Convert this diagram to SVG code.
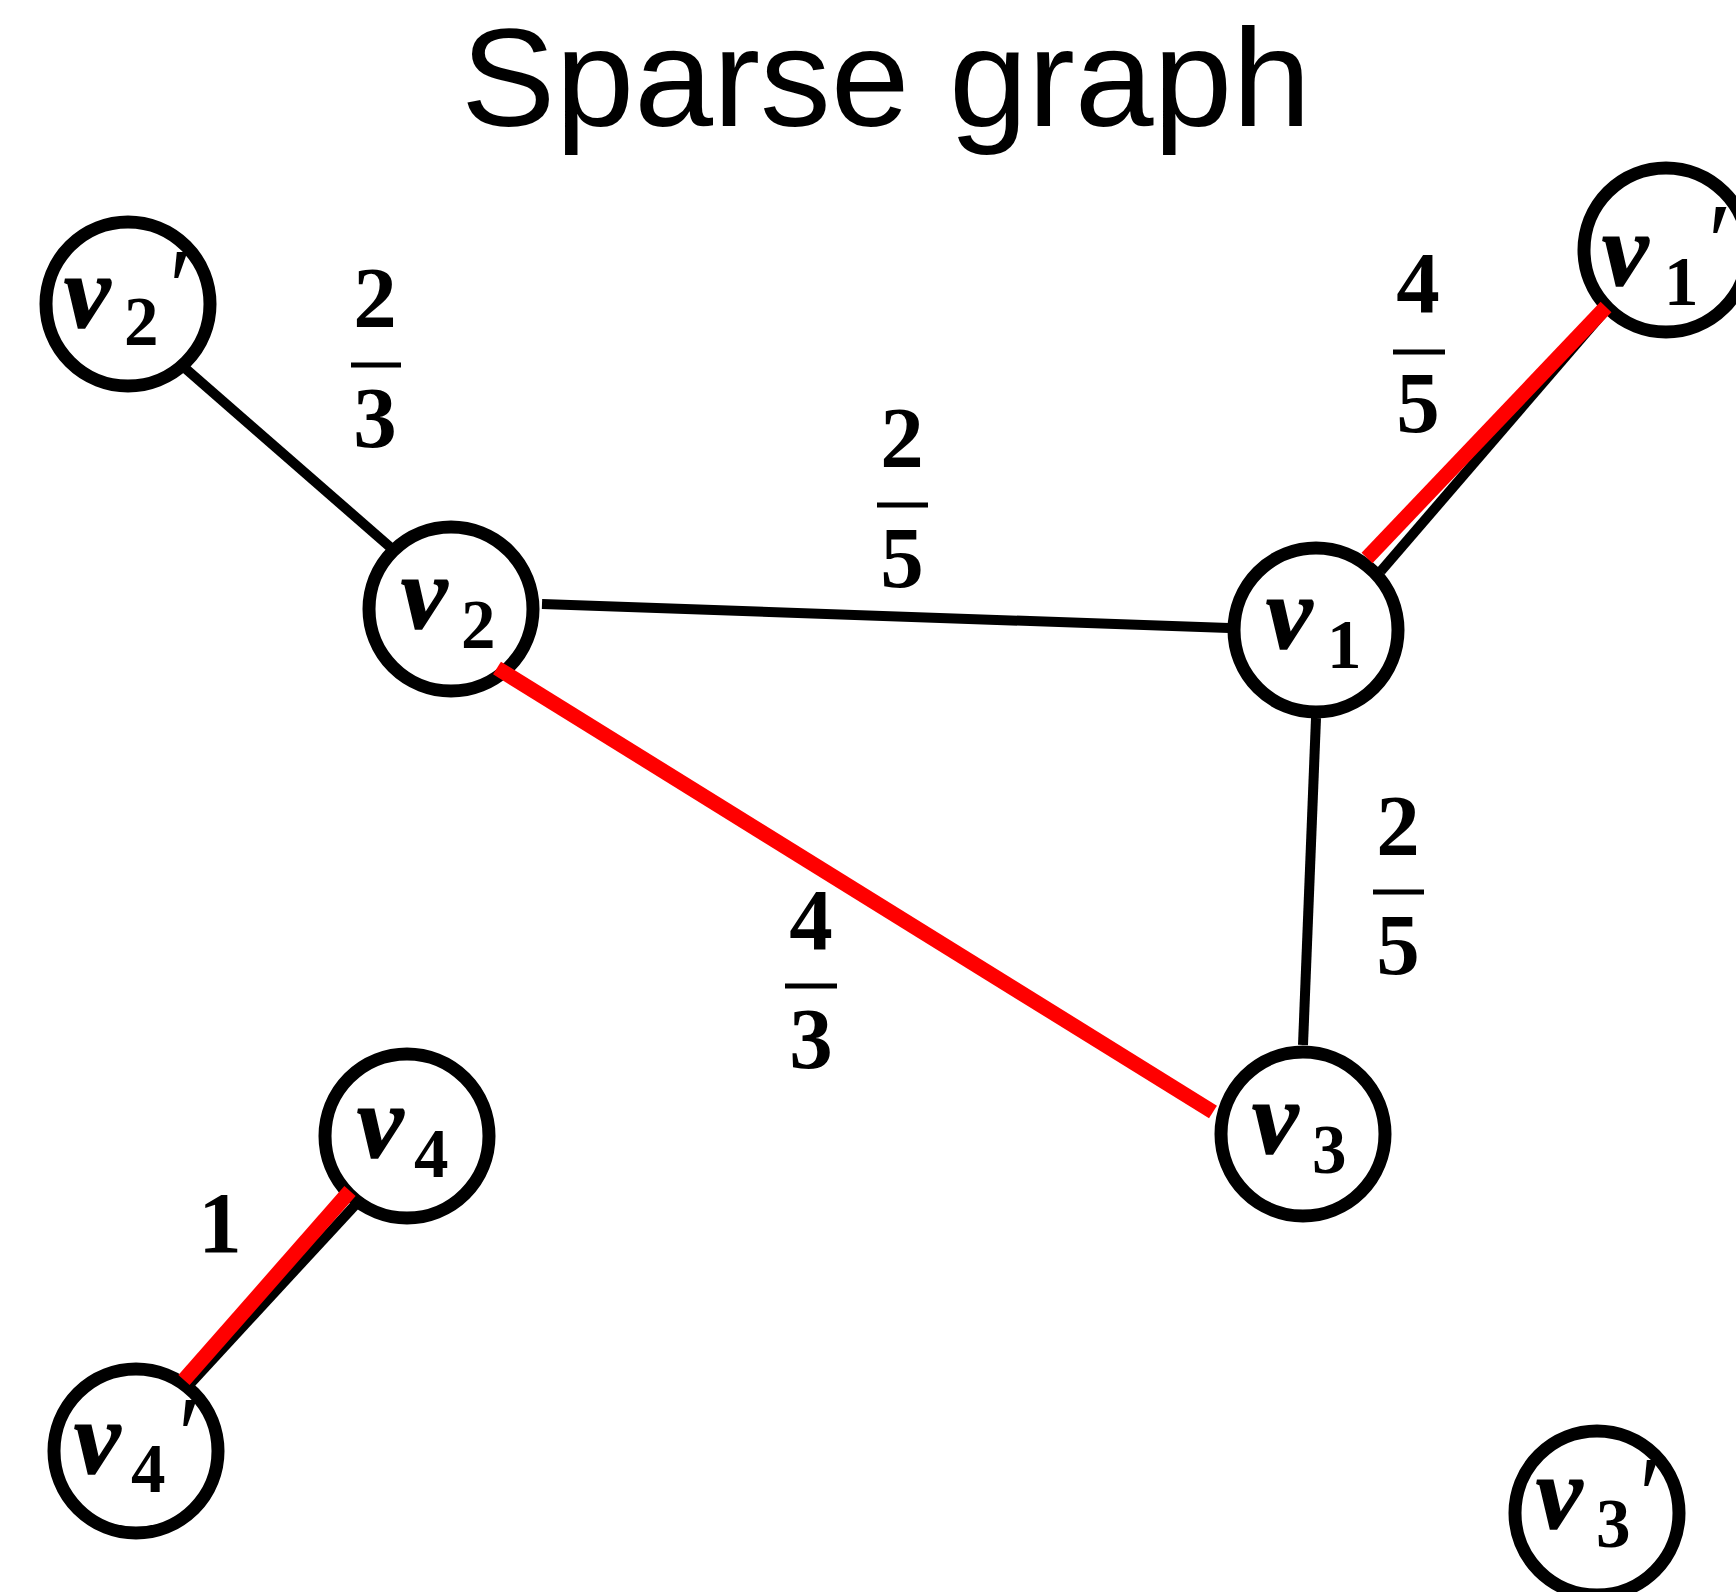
<svg xmlns="http://www.w3.org/2000/svg" width="1736" height="1592" viewBox="0 0 1736 1592">
<style>
.node{fill:#fff;stroke:#000;stroke-width:13}
.v{font-family:"Liberation Serif",serif;font-weight:bold;font-style:italic;font-size:104px;fill:#000;stroke:#000;stroke-width:1.5}
.sub{font-family:"Liberation Serif",serif;font-weight:bold;font-size:69px;fill:#000}
.pr{font-family:"Liberation Serif","DejaVu Serif",serif;font-style:italic;font-size:110px;fill:#000}
.frac{font-family:"Liberation Serif",serif;font-weight:bold;font-size:87px;fill:#000;text-anchor:middle}
.bar{stroke:#000;stroke-width:5}
.e{stroke:#000;stroke-width:10;fill:none}
.r{stroke:#FF0000;stroke-width:15;fill:none}
.title{font-family:"Liberation Sans",Arial,sans-serif;font-size:139px;fill:#000}
</style>
<rect width="1736" height="1592" fill="#fff"/>
<text class="title" x="461" y="126" textLength="850" lengthAdjust="spacingAndGlyphs">Sparse graph</text>

<g id="nodes">
<g id="v2p"><circle class="node" cx="128" cy="304" r="82"/><text class="v" x="64" y="327">v</text><text class="sub" x="124" y="345">2</text><text class="pr" x="162" y="324">′</text></g>
<g id="v2"><circle class="node" cx="451" cy="609" r="82"/><text class="v" x="401" y="628">v</text><text class="sub" x="461" y="648">2</text></g>
<g id="v1"><circle class="node" cx="1316" cy="630" r="82"/><text class="v" x="1266" y="648">v</text><text class="sub" x="1327" y="668">1</text></g>
<g id="v1p"><circle class="node" cx="1666" cy="250" r="82"/><text class="v" x="1602" y="285">v</text><text class="sub" x="1664" y="305">1</text><text class="pr" x="1701" y="279">′</text></g>
<g id="v3"><circle class="node" cx="1303" cy="1134" r="82"/><text class="v" x="1252" y="1153">v</text><text class="sub" x="1312" y="1173">3</text></g>
<g id="v4"><circle class="node" cx="407" cy="1136" r="82"/><text class="v" x="357" y="1157">v</text><text class="sub" x="414" y="1177">4</text></g>
<g id="v4p"><circle class="node" cx="136" cy="1451" r="82"/><text class="v" x="74" y="1473">v</text><text class="sub" x="131" y="1492">4</text><text class="pr" x="171" y="1472">′</text></g>
<g id="v3p"><circle class="node" cx="1597" cy="1513" r="82"/><text class="v" x="1536" y="1528">v</text><text class="sub" x="1596" y="1547">3</text><text class="pr" x="1632" y="1532">′</text></g>
</g>

<g id="connectors">
<line class="e" x1="186" y1="369" x2="390" y2="547"/>
<line class="e" x1="542" y1="604" x2="1229" y2="628"/>
<line class="e" x1="1316" y1="718" x2="1303" y2="1045"/>
<line class="e" x1="1381" y1="571" x2="1604" y2="312"/>
<line class="r" x1="1367" y1="558" x2="1606" y2="307"/>
<line class="r" x1="497" y1="668" x2="1213" y2="1112"/>
<line class="e" stroke-width="8" x1="357" y1="1203" x2="189" y2="1385"/>
<line class="r" x1="350" y1="1191" x2="184" y2="1380"/>
</g>

<g id="labels">
<text class="frac" x="375" y="327">2</text><line class="bar" x1="351" y1="365" x2="401" y2="365"/><text class="frac" x="375" y="447">3</text>
<text class="frac" x="902" y="467">2</text><line class="bar" x1="877" y1="505" x2="928" y2="505"/><text class="frac" x="902" y="587">5</text>
<text class="frac" x="1418" y="312">4</text><line class="bar" x1="1393" y1="352" x2="1445" y2="352"/><text class="frac" x="1418" y="432">5</text>
<text class="frac" x="1398" y="855">2</text><line class="bar" x1="1373" y1="892" x2="1424" y2="892"/><text class="frac" x="1398" y="974">5</text>
<text class="frac" x="811" y="949">4</text><line class="bar" x1="785" y1="986" x2="837" y2="986"/><text class="frac" x="811" y="1068">3</text>
<text class="frac" x="220" y="1252">1</text>
</g>
</svg>
